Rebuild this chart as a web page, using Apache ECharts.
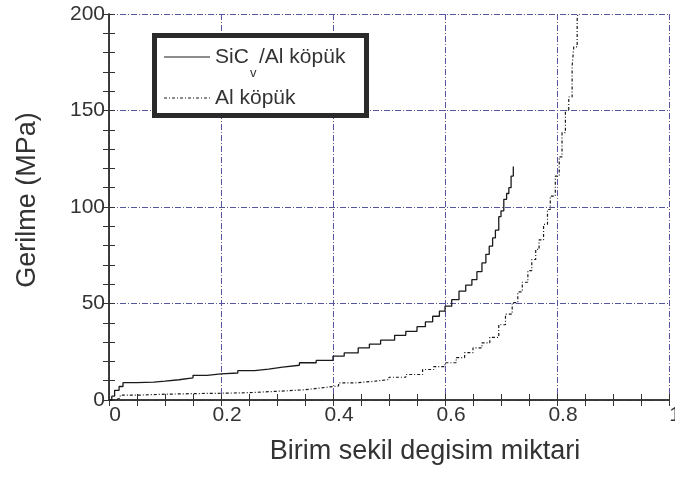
<!DOCTYPE html>
<html>
<head>
<meta charset="utf-8">
<script src="https://cdn.jsdelivr.net/npm/echarts@6/dist/echarts.min.js"></script>
<style>html,body{margin:0;padding:0;background:#fff}#c{width:675px;height:478px}</style>
</head>
<body>
<div id="c"></div>
<script>
// strain (x), stress MPa (y)
const sicAl = [[0,0],[0.005,2],[0.01,5],[0.018,7],[0.025,9],[0.05,9.3],[0.08,9.8],[0.1,10.5],[0.125,11.5],[0.15,12.8],[0.175,13.5],[0.2,14],[0.23,15.2],[0.26,16],[0.285,17],[0.31,18],[0.34,19.3],[0.37,20.5],[0.4,22.7],[0.42,24.4],[0.445,27],[0.465,29],[0.485,31],[0.51,33.5],[0.53,35.6],[0.55,38],[0.565,40.5],[0.578,43.4],[0.59,46],[0.6,48.6],[0.612,52],[0.625,56.4],[0.637,59.5],[0.648,62.4],[0.657,66.5],[0.666,71],[0.673,75.5],[0.679,79.7],[0.685,84],[0.69,88],[0.696,95],[0.7,98],[0.705,104],[0.71,107],[0.714,110],[0.718,116],[0.722,121]];
const alFoam = [[0,0],[0.01,1],[0.02,2.5],[0.05,3],[0.1,3.3],[0.15,3.5],[0.2,3.8],[0.25,4.5],[0.3,5.3],[0.35,6.3],[0.38,7.3],[0.41,8.9],[0.44,9.6],[0.47,10.6],[0.5,11.8],[0.53,13.2],[0.56,15.8],[0.58,17.3],[0.6,19.3],[0.62,22],[0.635,24.5],[0.65,27],[0.666,29.6],[0.68,32.5],[0.696,39],[0.708,44.5],[0.72,50.5],[0.73,56],[0.738,61],[0.748,67],[0.755,72.8],[0.762,78],[0.768,83],[0.776,91],[0.783,98.7],[0.788,105.6],[0.797,116],[0.804,126],[0.809,138.5],[0.815,150],[0.821,157],[0.827,173],[0.83,183],[0.836,197],[0.838,203]];
const seriesNames = ['SiC/Al köpük', 'Al köpük'];
const xTitle = 'Birim sekil degisim miktari';
const yTitle = 'Gerilme (MPa)';

const FONT = 'Liberation Sans, Arial, sans-serif';
const gridLine = {show:true, lineStyle:{color:'#5555a0', width:1, type:[6,2,1,2]}};
const axLine = {show:true, lineStyle:{color:'#333', width:1.5}};
const tick = {show:true, inside:true, length:6, lineStyle:{color:'#333'}};
const minor = {show:true, splitNumber:4, length:6, lineStyle:{color:'#333'}};
const minorY = {show:true, splitNumber:5, length:6, lineStyle:{color:'#333'}};

const chart = echarts.init(document.getElementById('c'));
chart.setOption({
  animation:false,
  backgroundColor:'#fff',
  grid:{left:109, right:6, top:14, bottom:78, containLabel:false, outerBoundsMode:'none'},
  xAxis:[{
    type:'value', min:0, max:1, interval:0.2, position:'bottom',
    axisLine:axLine, axisTick:tick, minorTick:minor, splitLine:gridLine,
    axisLabel:{fontFamily:FONT, fontSize:21, color:'#333', margin:5, padding:[0,0,0,12]},
    name:xTitle, nameLocation:'middle', nameGap:38,
    nameTextStyle:{fontFamily:FONT, fontSize:27, color:'#333', padding:[0,0,0,72]}
  },{
    type:'value', min:0, max:1, interval:0.2, position:'top',
    axisLine:axLine, axisTick:tick, minorTick:minor, splitLine:{show:false}, axisLabel:{show:false}
  }],
  yAxis:[{
    type:'value', min:0, max:200, interval:50, position:'left',
    axisLine:axLine, axisTick:tick, minorTick:minorY, splitLine:gridLine,
    axisLabel:{fontFamily:FONT, fontSize:21, color:'#333', margin:4},
    name:yTitle, nameLocation:'middle', nameGap:68,
    nameTextStyle:{fontFamily:FONT, fontSize:27, color:'#333', padding:[0,0,0,14]}
  },{
    type:'value', min:0, max:200, interval:50, position:'right',
    axisLine:axLine, axisTick:tick, minorTick:minorY, splitLine:{show:false}, axisLabel:{show:false}
  }],
  series:[{
    name:seriesNames[0], type:'line', step:'end', data:sicAl, showSymbol:false, symbol:'none',
    lineStyle:{color:'#1a1a1a', width:1.3}, clip:true, z:3
  },{
    name:seriesNames[1], type:'line', step:'end', data:alFoam, showSymbol:false, symbol:'none',
    lineStyle:{color:'#1a1a1a', width:1.2, type:[3,2,1,2]}, clip:true, z:3
  }],
  graphic:[
    {type:'rect', z:100, shape:{x:154.5, y:35.5, width:212, height:80}, style:{fill:'#fff', stroke:'#2a2a2a', lineWidth:5}},
    {type:'line', z:101, shape:{x1:164, y1:57, x2:210, y2:57}, style:{stroke:'#1a1a1a', lineWidth:1}},
    {type:'text', z:101, x:215, y:57, style:{text:'SiC', font:'21px ' + FONT, fill:'#333', verticalAlign:'middle'}},
    {type:'text', z:101, x:250, y:73, style:{text:'v', font:'13px ' + FONT, fill:'#333', verticalAlign:'middle'}},
    {type:'text', z:101, x:259, y:57, style:{text:'/Al köpük', font:'21px ' + FONT, fill:'#333', verticalAlign:'middle'}},
    {type:'line', z:101, shape:{x1:164, y1:98, x2:210, y2:98}, style:{stroke:'#1a1a1a', lineWidth:1, lineDash:[3,2,1,2]}},
    {type:'text', z:101, x:215, y:98, style:{text:'Al köpük', font:'21px ' + FONT, fill:'#333', verticalAlign:'middle'}}
  ]
});
</script>
</body>
</html>
